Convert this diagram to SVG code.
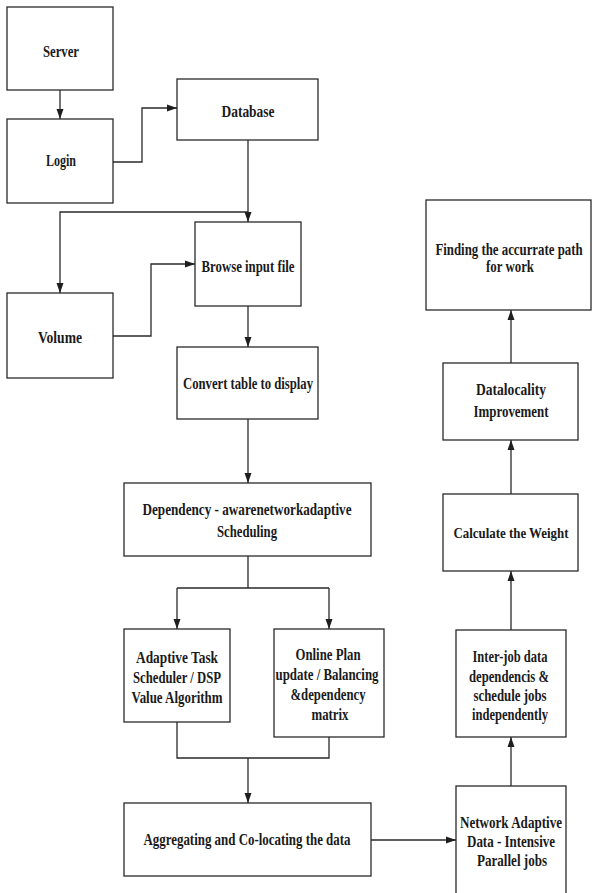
<svg xmlns="http://www.w3.org/2000/svg" width="592" height="893" viewBox="0 0 592 893">
<defs>
<style>
.box{fill:#fff;stroke:#2a2a2a;stroke-width:1.3}
.ln{fill:none;stroke:#2a2a2a;stroke-width:1.3}
text{font-family:"Liberation Serif","Times New Roman",serif;font-weight:bold;font-size:16px;fill:#1a1a1a;text-anchor:middle}
.sm{font-size:14px}
</style>
<marker id="ah" markerUnits="userSpaceOnUse" markerWidth="10" markerHeight="10" viewBox="0 0 10 10" refX="10" refY="5" orient="auto">
<path d="M0,1.5 L10,5 L0,8.5 Z" fill="#1e1e1e"/>
</marker>
</defs>
<rect width="592" height="893" fill="#fff"/>
<g id="connectors">
<path class="ln" d="M60 90 V119" marker-end="url(#ah)"/>
<path class="ln" d="M113 162 H142 V108 H177" marker-end="url(#ah)"/>
<path class="ln" d="M248 140 V222" marker-end="url(#ah)"/>
<path class="ln" d="M248 212 H60 V293" marker-end="url(#ah)"/>
<path class="ln" d="M113 336 H151 V264 H195" marker-end="url(#ah)"/>
<path class="ln" d="M248 306 V347" marker-end="url(#ah)"/>
<path class="ln" d="M248 419 V483" marker-end="url(#ah)"/>
<path class="ln" d="M248 556 V588 M177 588 H329"/>
<path class="ln" d="M177 588 V629" marker-end="url(#ah)"/>
<path class="ln" d="M329 588 V629" marker-end="url(#ah)"/>
<path class="ln" d="M177 722 V758 H329 V737"/>
<path class="ln" d="M248 758 V803" marker-end="url(#ah)"/>
<path class="ln" d="M371 840 H456" marker-end="url(#ah)"/>
<path class="ln" d="M511 786 V737" marker-end="url(#ah)"/>
<path class="ln" d="M511 630 V571" marker-end="url(#ah)"/>
<path class="ln" d="M511 494 V440" marker-end="url(#ah)"/>
<path class="ln" d="M511 363 V310" marker-end="url(#ah)"/>
</g>
<g id="server">
<rect class="box" x="7" y="7" width="106" height="83"/>
<text x="61" y="57" textLength="36" lengthAdjust="spacingAndGlyphs">Server</text>
</g>
<g id="login">
<rect class="box" x="7" y="119" width="106" height="84"/>
<text x="61" y="166" textLength="30" lengthAdjust="spacingAndGlyphs">Login</text>
</g>
<g id="database">
<rect class="box" x="177" y="79" width="141" height="61"/>
<text x="248" y="117" textLength="53" lengthAdjust="spacingAndGlyphs">Database</text>
</g>
<g id="volume">
<rect class="box" x="7" y="293" width="106" height="85"/>
<text x="60" y="343" textLength="44" lengthAdjust="spacingAndGlyphs">Volume</text>
</g>
<g id="browse">
<rect class="box" x="195" y="222" width="106" height="84"/>
<text x="248" y="272" textLength="93" lengthAdjust="spacingAndGlyphs">Browse input file</text>
</g>
<g id="convert">
<rect class="box" x="177" y="347" width="141" height="72"/>
<text x="248" y="389" textLength="130" lengthAdjust="spacingAndGlyphs">Convert table to display</text>
</g>
<g id="dependency">
<rect class="box" x="124" y="483" width="247" height="73"/>
<text x="247" y="515" textLength="209" lengthAdjust="spacingAndGlyphs">Dependency - awarenetworkadaptive</text>
<text x="247" y="537" textLength="60" lengthAdjust="spacingAndGlyphs">Scheduling</text>
</g>
<g id="adaptive">
<rect class="box" x="124" y="629" width="106" height="93"/>
<text x="177" y="663" textLength="82" lengthAdjust="spacingAndGlyphs">Adaptive Task</text>
<text x="177" y="683" textLength="88" lengthAdjust="spacingAndGlyphs">Scheduler / DSP</text>
<text x="177" y="703" textLength="91" lengthAdjust="spacingAndGlyphs">Value Algorithm</text>
</g>
<g id="online">
<rect class="box" x="274" y="629" width="110" height="108"/>
<text x="328" y="660" textLength="65" lengthAdjust="spacingAndGlyphs">Online Plan</text>
<text x="327" y="680" textLength="103" lengthAdjust="spacingAndGlyphs">update / Balancing</text>
<text x="328" y="700" textLength="75" lengthAdjust="spacingAndGlyphs">&amp;dependency</text>
<text x="330" y="720" textLength="37" lengthAdjust="spacingAndGlyphs">matrix</text>
</g>
<g id="aggregating">
<rect class="box" x="124" y="803" width="247" height="73"/>
<text x="247" y="845" textLength="207" lengthAdjust="spacingAndGlyphs">Aggregating and Co-locating the data</text>
</g>
<g id="network">
<rect class="box" x="456" y="786" width="110" height="120"/>
<text x="511" y="828" textLength="102" lengthAdjust="spacingAndGlyphs">Network Adaptive</text>
<text x="511" y="847" textLength="88" lengthAdjust="spacingAndGlyphs">Data - Intensive</text>
<text x="512" y="866" textLength="70" lengthAdjust="spacingAndGlyphs">Parallel jobs</text>
</g>
<g id="interjob">
<rect class="box" x="456" y="630" width="110" height="107"/>
<text x="510" y="662" textLength="75" lengthAdjust="spacingAndGlyphs">Inter-job data</text>
<text x="509" y="682" textLength="80" lengthAdjust="spacingAndGlyphs">dependencis &amp;</text>
<text x="510" y="701" textLength="73" lengthAdjust="spacingAndGlyphs">schedule jobs</text>
<text x="510" y="720" textLength="76" lengthAdjust="spacingAndGlyphs">independently</text>
</g>
<g id="calculate">
<rect class="box" x="443" y="494" width="135" height="77"/>
<text class="sm" x="511" y="538" textLength="115" lengthAdjust="spacingAndGlyphs">Calculate the Weight</text>
</g>
<g id="datalocality">
<rect class="box" x="443" y="363" width="135" height="77"/>
<text x="511" y="395" textLength="70" lengthAdjust="spacingAndGlyphs">Datalocality</text>
<text x="511" y="417" textLength="75" lengthAdjust="spacingAndGlyphs">Improvement</text>
</g>
<g id="finding">
<rect class="box" x="426" y="200" width="165" height="110"/>
<text transform="translate(509,255) scale(0.8,1)" x="0" y="0" textLength="184" lengthAdjust="spacingAndGlyphs">Finding the accurrate path</text>
<text x="510" y="272" textLength="48" lengthAdjust="spacingAndGlyphs">for work</text>
</g>
</svg>
